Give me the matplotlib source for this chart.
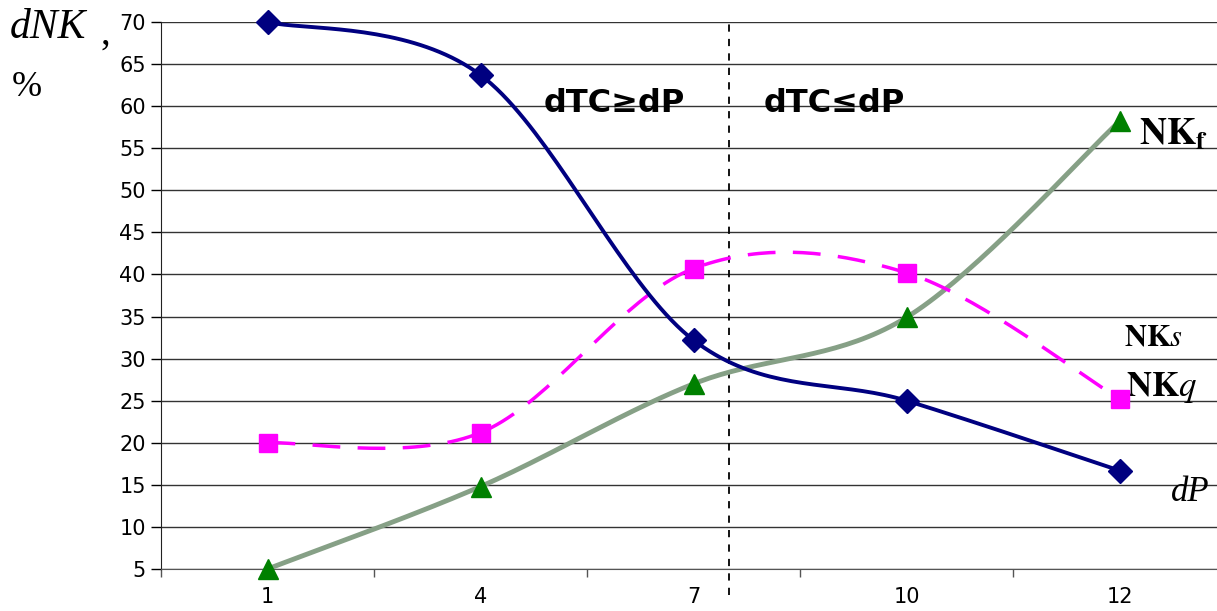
import numpy as np
import matplotlib
matplotlib.use("Agg")
import matplotlib.pyplot as plt

# data
categories = ["1", "4", "7", "10", "12"]
dP = [70, 63.7, 32.2, 25, 16.7]
NKq = [20, 21.2, 40.7, 40.2, 25.2]
NKf = [5, 14.8, 27, 34.9, 58.2]
y_ticks = list(range(5, 75, 5))


def smooth(xs, ys, n=40):
    # Excel-like smoothed line: cubic Bezier with Catmull-Rom control points
    xs = np.asarray(xs, float)
    ys = np.asarray(ys, float)
    px = np.concatenate([[xs[0]], xs, [xs[-1]]])
    py = np.concatenate([[ys[0]], ys, [ys[-1]]])
    outx, outy = [], []
    t = np.linspace(0, 1, n)
    for i in range(1, len(px) - 2):
        p0 = np.array([px[i], py[i]])
        p3 = np.array([px[i + 1], py[i + 1]])
        c1 = p0 + (np.array([px[i + 1], py[i + 1]]) - np.array([px[i - 1], py[i - 1]])) / 6
        c2 = p3 - (np.array([px[i + 2], py[i + 2]]) - np.array([px[i], py[i]])) / 6
        pts = ((1 - t) ** 3)[:, None] * p0 + (3 * (1 - t) ** 2 * t)[:, None] * c1 \
            + (3 * (1 - t) * t ** 2)[:, None] * c2 + (t ** 3)[:, None] * p3
        outx.extend(pts[:, 0])
        outy.extend(pts[:, 1])
    return outx, outy


x = np.arange(len(categories))

fig = plt.figure(figsize=(12.17, 6.11), dpi=100)
W, H = 1217, 611
ax = fig.add_axes([161 / W, (H - 569) / H, 1065 / W, 547 / H])

ax.set_xlim(-0.5, 4.5)
ax.set_ylim(5, 70)
ax.set_yticks(y_ticks)
ax.set_xticks(x)
ax.set_xticklabels(categories)
ax.set_xticks(np.arange(-0.5, 4.6, 1), minor=True)
ax.tick_params(axis="x", which="major", length=0, pad=13, labelsize=15)
ax.tick_params(axis="x", which="minor", length=6, width=1, color="#555555")
ax.tick_params(axis="y", length=7, width=1, labelsize=15, pad=4)
for lab in ax.get_xticklabels() + ax.get_yticklabels():
    lab.set_fontfamily("DejaVu Sans")

ax.grid(axis="y", color="#333333", linewidth=1)
ax.set_axisbelow(True)
for s in ["top", "right"]:
    ax.spines[s].set_visible(False)
ax.spines["left"].set_color("#222222")
ax.spines["bottom"].set_color("#555555")

# vertical separator
ax.plot([2.167, 2.167], [1.9, 70], color="black", linestyle=(0, (4, 4)),
        linewidth=1.3, clip_on=False, zorder=2)

sx, sy = smooth(x, NKf)
ax.plot(sx, sy, color="#86A086", linewidth=3.5, zorder=3)
ax.plot(x, NKf, linestyle="none", marker="^", markersize=14, color="#008000", zorder=5,
        clip_on=False)

sx, sy = smooth(x, NKq)
ax.plot(sx, sy, color="#FF00FF", linewidth=2.5, linestyle=(0, (8, 5)), zorder=3)
ax.plot(x, NKq, linestyle="none", marker="s", markersize=13, color="#FF00FF", zorder=5,
        clip_on=False)

sx, sy = smooth(x, dP)
ax.plot(sx, sy, color="#000080", linewidth=2.8, zorder=4, clip_on=False)
ax.plot(x, dP, linestyle="none", marker="D", markersize=12, color="#000080", zorder=6,
        clip_on=False)

# annotations
ax.text(1.63, 60.3, "dTC≥dP", fontsize=23, fontweight="bold", ha="center", va="center",
        family="DejaVu Sans")
ax.text(2.66, 60.3, "dTC≤dP", fontsize=23, fontweight="bold", ha="center", va="center",
        family="DejaVu Sans")

serif = "Liberation Serif"
ax.text(4.09, 56.6, r"$\mathbf{NK}_{\mathbf{f}}$", fontsize=27, ha="left", va="center",
        math_fontfamily="stix")
ax.text(4.02, 32.6, r"$\mathbf{NK}\mathit{s}$", fontsize=22, ha="left", va="center",
        math_fontfamily="stix")
ax.text(4.03, 26.6, r"$\mathbf{NK}\mathit{q}$", fontsize=25, ha="left", va="center",
        math_fontfamily="stix")
ax.text(4.24, 14.1, "dP", fontsize=25, style="italic", ha="left", va="center", family=serif)

fig.text(10 / W, 1 - 28 / H, "dNK", fontsize=30, style="italic", ha="left", va="center",
         family=serif)
fig.text(100 / W, 1 - 34 / H, ",", fontsize=28, ha="left", va="center", family=serif)
fig.text(12 / W, 1 - 88 / H, "%", fontsize=26, ha="left", va="center", family=serif)

fig.savefig("out.png", dpi=100)
